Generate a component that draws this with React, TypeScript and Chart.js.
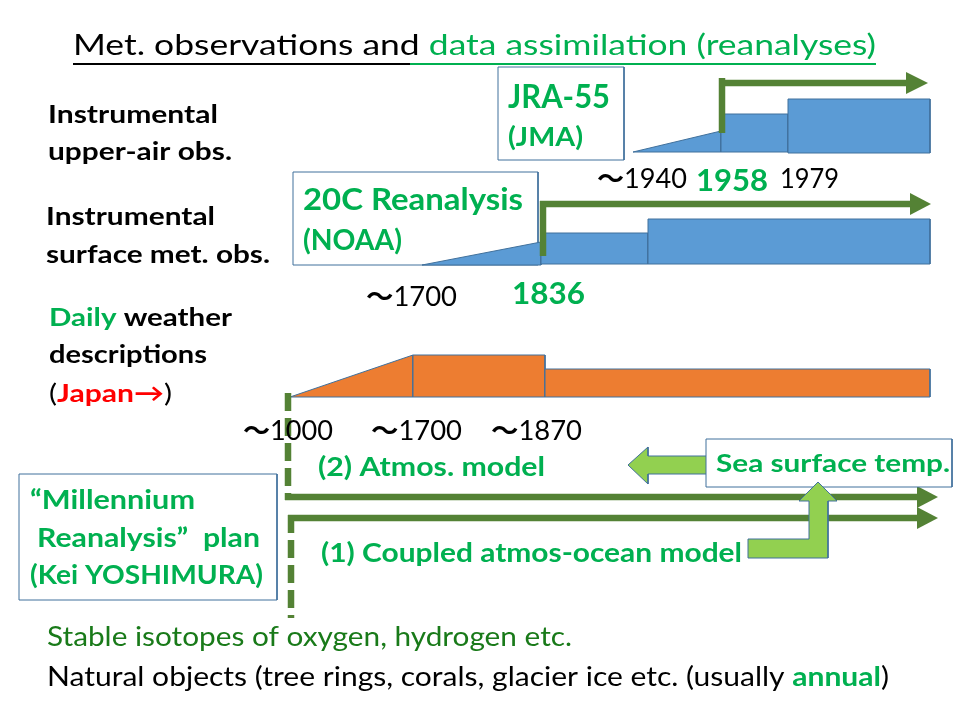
import React, { useEffect, useRef } from "react";
import { Chart, registerables } from "chart.js";

Chart.register(...registerables);

// ---- Slide coordinate space: x 0..960, y 0..720 (downwards) ----
type P = [number, number];

// Colours
const BLUE = "#5B9BD5";
const EDGE = "#41719C";
const ORANGE = "#ED7D31";
const DARK_GREEN = "#548235";
const LIGHT_GREEN = "#92D050";
const TXT_GREEN = "#00B050";
const ISO_GREEN = "#197A19";
const RED = "#FF0000";

// Instrumental upper-air obs. (JRA-55)
const jraBox: number[] = [498, 67, 624, 160];
const upperAirRamp: P[] = [[633, 152], [721, 131], [721, 152]];
const upperAirStep1: number[] = [721, 114, 788, 152];
const upperAirStep2: number[] = [788, 99, 930, 153];
const jraArrowStem: P[] = [[722, 133], [722, 78]];
const jraArrowShaft: P[] = [[719, 83], [909, 83]];
const jraArrowHead: P[] = [[906, 72], [928, 83], [906, 94]];

// Instrumental surface met. obs. (20C Reanalysis)
const noaaBox: number[] = [293, 172, 538, 265];
const surfaceRamp: P[] = [[422, 265], [541, 242], [541, 265]];
const surfaceStep1: number[] = [541, 233, 648, 264];
const surfaceStep2: number[] = [648, 219, 930, 264];
const noaaArrowStem: P[] = [[543, 256], [543, 201]];
const noaaArrowShaft: P[] = [[540, 204], [913, 204]];
const noaaArrowHead: P[] = [[910, 193], [931, 204], [910, 215]];

// Daily weather descriptions
const dailyRamp: P[] = [[290, 397], [413, 355], [413, 397]];
const dailyStep1: number[] = [413, 355, 545, 397];
const dailyStep2: number[] = [545, 369, 930, 397];

// Models
const atmosStem: P[] = [[288, 393], [288, 500]];
const atmosShaft: P[] = [[285, 497], [920, 497]];
const atmosHead: P[] = [[917, 486], [938, 497], [917, 508]];
const coupledShaft: P[] = [[288, 518], [920, 518]];
const coupledHead: P[] = [[917, 507], [938, 518], [917, 529]];
const coupledStem: P[] = [[291, 515], [291, 618]];
const sstLeftArrow: P[] = [[628, 465], [648, 447], [648, 456], [708, 456], [708, 474], [648, 474], [648, 484]];
const sstBox: number[] = [706, 439, 952, 487];
const sstElbowArrow: P[] = [[748, 539], [809, 539], [809, 501], [799, 501], [818, 482], [837, 501], [828, 501], [828, 558], [748, 558]];
const millenniumBox: number[] = [19, 474, 277, 600];

// Title underline
const titleUnderlineBlack: P[] = [[73, 64], [410, 64]];
const titleUnderlineGreen: P[] = [[410, 64], [876, 64]];

// ---- Texts ----
type Run = { t: string; c: string; b?: boolean; cjk?: boolean };
type TextItem = { runs: Run[]; x: number; x2: number; y: number; size: number };

const titleTexts: TextItem[] = [
  { runs: [{ t: "Met. observations and ", c: "#000" }, { t: "data assimilation (reanalyses)", c: TXT_GREEN }], x: 73, x2: 876, y: 55, size: 29 },
];
const rowLabels: TextItem[] = [
  { runs: [{ t: "Instrumental", c: "#000", b: true }], x: 48, x2: 218, y: 123, size: 25 },
  { runs: [{ t: "upper-air obs.", c: "#000", b: true }], x: 48, x2: 232, y: 160, size: 25 },
  { runs: [{ t: "Instrumental", c: "#000", b: true }], x: 46, x2: 215, y: 225, size: 25 },
  { runs: [{ t: "surface met. obs.", c: "#000", b: true }], x: 46, x2: 270, y: 263, size: 25 },
  { runs: [{ t: "Daily", c: TXT_GREEN, b: true }, { t: " weather", c: "#000", b: true }], x: 49, x2: 232, y: 326, size: 25 },
  { runs: [{ t: "descriptions", c: "#000", b: true }], x: 49, x2: 207, y: 363, size: 25 },
  { runs: [{ t: "(", c: "#000" }, { t: "Japan→", c: RED, b: true }, { t: ")", c: "#000" }], x: 49, x2: 172, y: 402, size: 25 },
];
const reanalysisLabels: TextItem[] = [
  { runs: [{ t: "JRA-55", c: TXT_GREEN, b: true }], x: 508, x2: 610, y: 108, size: 32 },
  { runs: [{ t: "(JMA)", c: TXT_GREEN, b: true }], x: 508, x2: 583, y: 146, size: 27 },
  { runs: [{ t: "20C Reanalysis", c: TXT_GREEN, b: true }], x: 303, x2: 523, y: 210, size: 31 },
  { runs: [{ t: "(NOAA)", c: TXT_GREEN, b: true }], x: 303, x2: 402, y: 250, size: 28 },
];
const yearLabels: TextItem[] = [
  { runs: [{ t: "〜", c: "#000", cjk: true }, { t: "1940", c: "#000" }], x: 597, x2: 687, y: 188, size: 26 },
  { runs: [{ t: "1958", c: TXT_GREEN, b: true }], x: 696, x2: 768, y: 191, size: 31 },
  { runs: [{ t: "1979", c: "#000" }], x: 780, x2: 839, y: 188, size: 26 },
  { runs: [{ t: "〜", c: "#000", cjk: true }, { t: "1700", c: "#000" }], x: 366, x2: 457, y: 306, size: 26 },
  { runs: [{ t: "1836", c: TXT_GREEN, b: true }], x: 512, x2: 585, y: 304, size: 31 },
  { runs: [{ t: "〜", c: "#000", cjk: true }, { t: "1000", c: "#000" }], x: 243, x2: 333, y: 440, size: 26 },
  { runs: [{ t: "〜", c: "#000", cjk: true }, { t: "1700", c: "#000" }], x: 371, x2: 462, y: 440, size: 26 },
  { runs: [{ t: "〜", c: "#000", cjk: true }, { t: "1870", c: "#000" }], x: 491, x2: 582, y: 440, size: 26 },
];
const modelLabels: TextItem[] = [
  { runs: [{ t: "(2) Atmos. model", c: TXT_GREEN, b: true }], x: 318, x2: 545, y: 476, size: 26 },
  { runs: [{ t: "Sea surface temp.", c: TXT_GREEN, b: true }], x: 716, x2: 950, y: 472, size: 25 },
  { runs: [{ t: "(1) Coupled atmos-ocean model", c: TXT_GREEN, b: true }], x: 321, x2: 742, y: 562, size: 26 },
  { runs: [{ t: "“Millennium", c: TXT_GREEN, b: true }], x: 30, x2: 195, y: 509, size: 26 },
  { runs: [{ t: "Reanalysis”  plan", c: TXT_GREEN, b: true }], x: 37, x2: 260, y: 547, size: 26 },
  { runs: [{ t: "(Kei YOSHIMURA)", c: TXT_GREEN, b: true }], x: 30, x2: 263, y: 584, size: 26 },
];
const footerTexts: TextItem[] = [
  { runs: [{ t: "Stable isotopes of oxygen, hydrogen etc.", c: ISO_GREEN }], x: 47, x2: 572, y: 646, size: 27 },
  {
    runs: [
      { t: "Natural objects (tree rings, corals, glacier ice etc. (usually ", c: "#000" },
      { t: "annual", c: TXT_GREEN, b: true },
      { t: ")", c: "#000" },
    ],
    x: 47, x2: 889, y: 686, size: 27,
  },
];

// ---- dataset helpers ----
const pts = (p: P[]) => p.map(([x, y]) => ({ x, y }));
const rectPts = (r: number[]): P[] => [[r[0], r[1]], [r[2], r[1]], [r[2], r[3]], [r[0], r[3]]];

function poly(p: P[], fill: string, stroke: string, width = 1) {
  return {
    data: pts([...p, p[0]]),
    fill: "shape",
    backgroundColor: fill,
    borderColor: stroke,
    borderWidth: width,
    pointRadius: 0,
    tension: 0,
    borderJoinStyle: "miter",
  };
}
function rect(r: number[], fill: string, stroke: string, width = 1) {
  return poly(rectPts(r), fill, stroke, width);
}
function line(p: P[], color: string, width: number, dash: number[] = []) {
  return {
    data: pts(p),
    fill: false,
    borderColor: color,
    backgroundColor: color,
    borderWidth: width,
    borderDash: dash,
    borderCapStyle: "butt",
    borderJoinStyle: "miter",
    pointRadius: 0,
    tension: 0,
  };
}

const LW = 6.5;
const DASH = [18, 7];

function fontOf(r: Run, size: number) {
  if (r.cjk) return `bold ${size}px "Noto Sans CJK JP", sans-serif`;
  return `${r.b ? "bold " : ""}${size}px Lato, "Noto Sans", "DejaVu Sans", sans-serif`;
}

const textPlugin = {
  id: "slideTexts",
  beforeDraw(chart: any) {
    const ctx = chart.ctx;
    ctx.save();
    ctx.fillStyle = "#ffffff";
    ctx.fillRect(0, 0, chart.width, chart.height);
    ctx.restore();
  },
  afterDatasetsDraw(chart: any) {
    const ctx: CanvasRenderingContext2D = chart.ctx;
    const xs = chart.scales.x;
    const ys = chart.scales.y;
    const all = [...titleTexts, ...rowLabels, ...reanalysisLabels, ...yearLabels, ...modelLabels, ...footerTexts];
    ctx.save();
    ctx.textBaseline = "alphabetic";
    ctx.textAlign = "left";
    for (const item of all) {
      const px = xs.getPixelForValue(item.x);
      const px2 = xs.getPixelForValue(item.x2);
      const py = ys.getPixelForValue(item.y);
      const widths = item.runs.map((r) => {
        ctx.font = fontOf(r, item.size);
        return ctx.measureText(r.t).width;
      });
      const total = widths.reduce((a, b) => a + b, 0);
      const s = (px2 - px) / total;
      ctx.save();
      ctx.translate(px, py);
      ctx.scale(s, 1);
      let cx = 0;
      item.runs.forEach((r, i) => {
        ctx.font = fontOf(r, item.size);
        ctx.fillStyle = r.c;
        ctx.fillText(r.t, cx, 0);
        cx += widths[i];
      });
      ctx.restore();
    }
    ctx.restore();
  },
};

export default function App() {
  const ref = useRef<HTMLCanvasElement | null>(null);
  useEffect(() => {
    if (!ref.current) return;
    const layers: any[] = [
      rect(jraBox, "#ffffff", EDGE),
      poly(upperAirRamp, BLUE, EDGE),
      rect(upperAirStep1, BLUE, EDGE),
      rect(upperAirStep2, BLUE, EDGE),
      line(jraArrowStem, DARK_GREEN, LW),
      line(jraArrowShaft, DARK_GREEN, LW),
      poly(jraArrowHead, DARK_GREEN, DARK_GREEN, 0),

      rect(noaaBox, "#ffffff", EDGE),
      poly(surfaceRamp, BLUE, EDGE),
      rect(surfaceStep1, BLUE, EDGE),
      rect(surfaceStep2, BLUE, EDGE),
      line(noaaArrowStem, DARK_GREEN, LW),
      line(noaaArrowShaft, DARK_GREEN, LW),
      poly(noaaArrowHead, DARK_GREEN, DARK_GREEN, 0),

      poly(dailyRamp, ORANGE, EDGE),
      rect(dailyStep1, ORANGE, EDGE),
      rect(dailyStep2, ORANGE, EDGE),

      line(atmosStem, DARK_GREEN, LW, DASH),
      line(atmosShaft, DARK_GREEN, LW),
      poly(atmosHead, DARK_GREEN, DARK_GREEN, 0),
      line(coupledShaft, DARK_GREEN, LW),
      poly(coupledHead, DARK_GREEN, DARK_GREEN, 0),
      line(coupledStem, DARK_GREEN, LW, DASH),

      poly(sstLeftArrow, LIGHT_GREEN, EDGE),
      rect(sstBox, "#ffffff", EDGE),
      poly(sstElbowArrow, LIGHT_GREEN, EDGE),
      rect(millenniumBox, "#ffffff", EDGE),

      line(titleUnderlineBlack, "#000000", 2),
      line(titleUnderlineGreen, TXT_GREEN, 2),
    ];
    const datasets = layers.map((d, i) => ({ ...d, order: -i }));
    const chart = new Chart(ref.current, {
      type: "line",
      data: { datasets },
      options: {
        responsive: false,
        maintainAspectRatio: false,
        animation: false,
        devicePixelRatio: 1,
        events: [],
        layout: { padding: 0 },
        plugins: { legend: { display: false }, tooltip: { enabled: false } },
        scales: {
          x: { type: "linear", min: 0, max: 960, display: false },
          y: { type: "linear", min: 0, max: 720, reverse: true, display: false },
        },
      },
      plugins: [textPlugin],
    } as any);
    return () => chart.destroy();
  }, []);
  return (
    <canvas
      ref={ref}
      width={960}
      height={720}
      style={{ position: "absolute", left: 0, top: 0, width: 960, height: 720 }}
    />
  );
}
